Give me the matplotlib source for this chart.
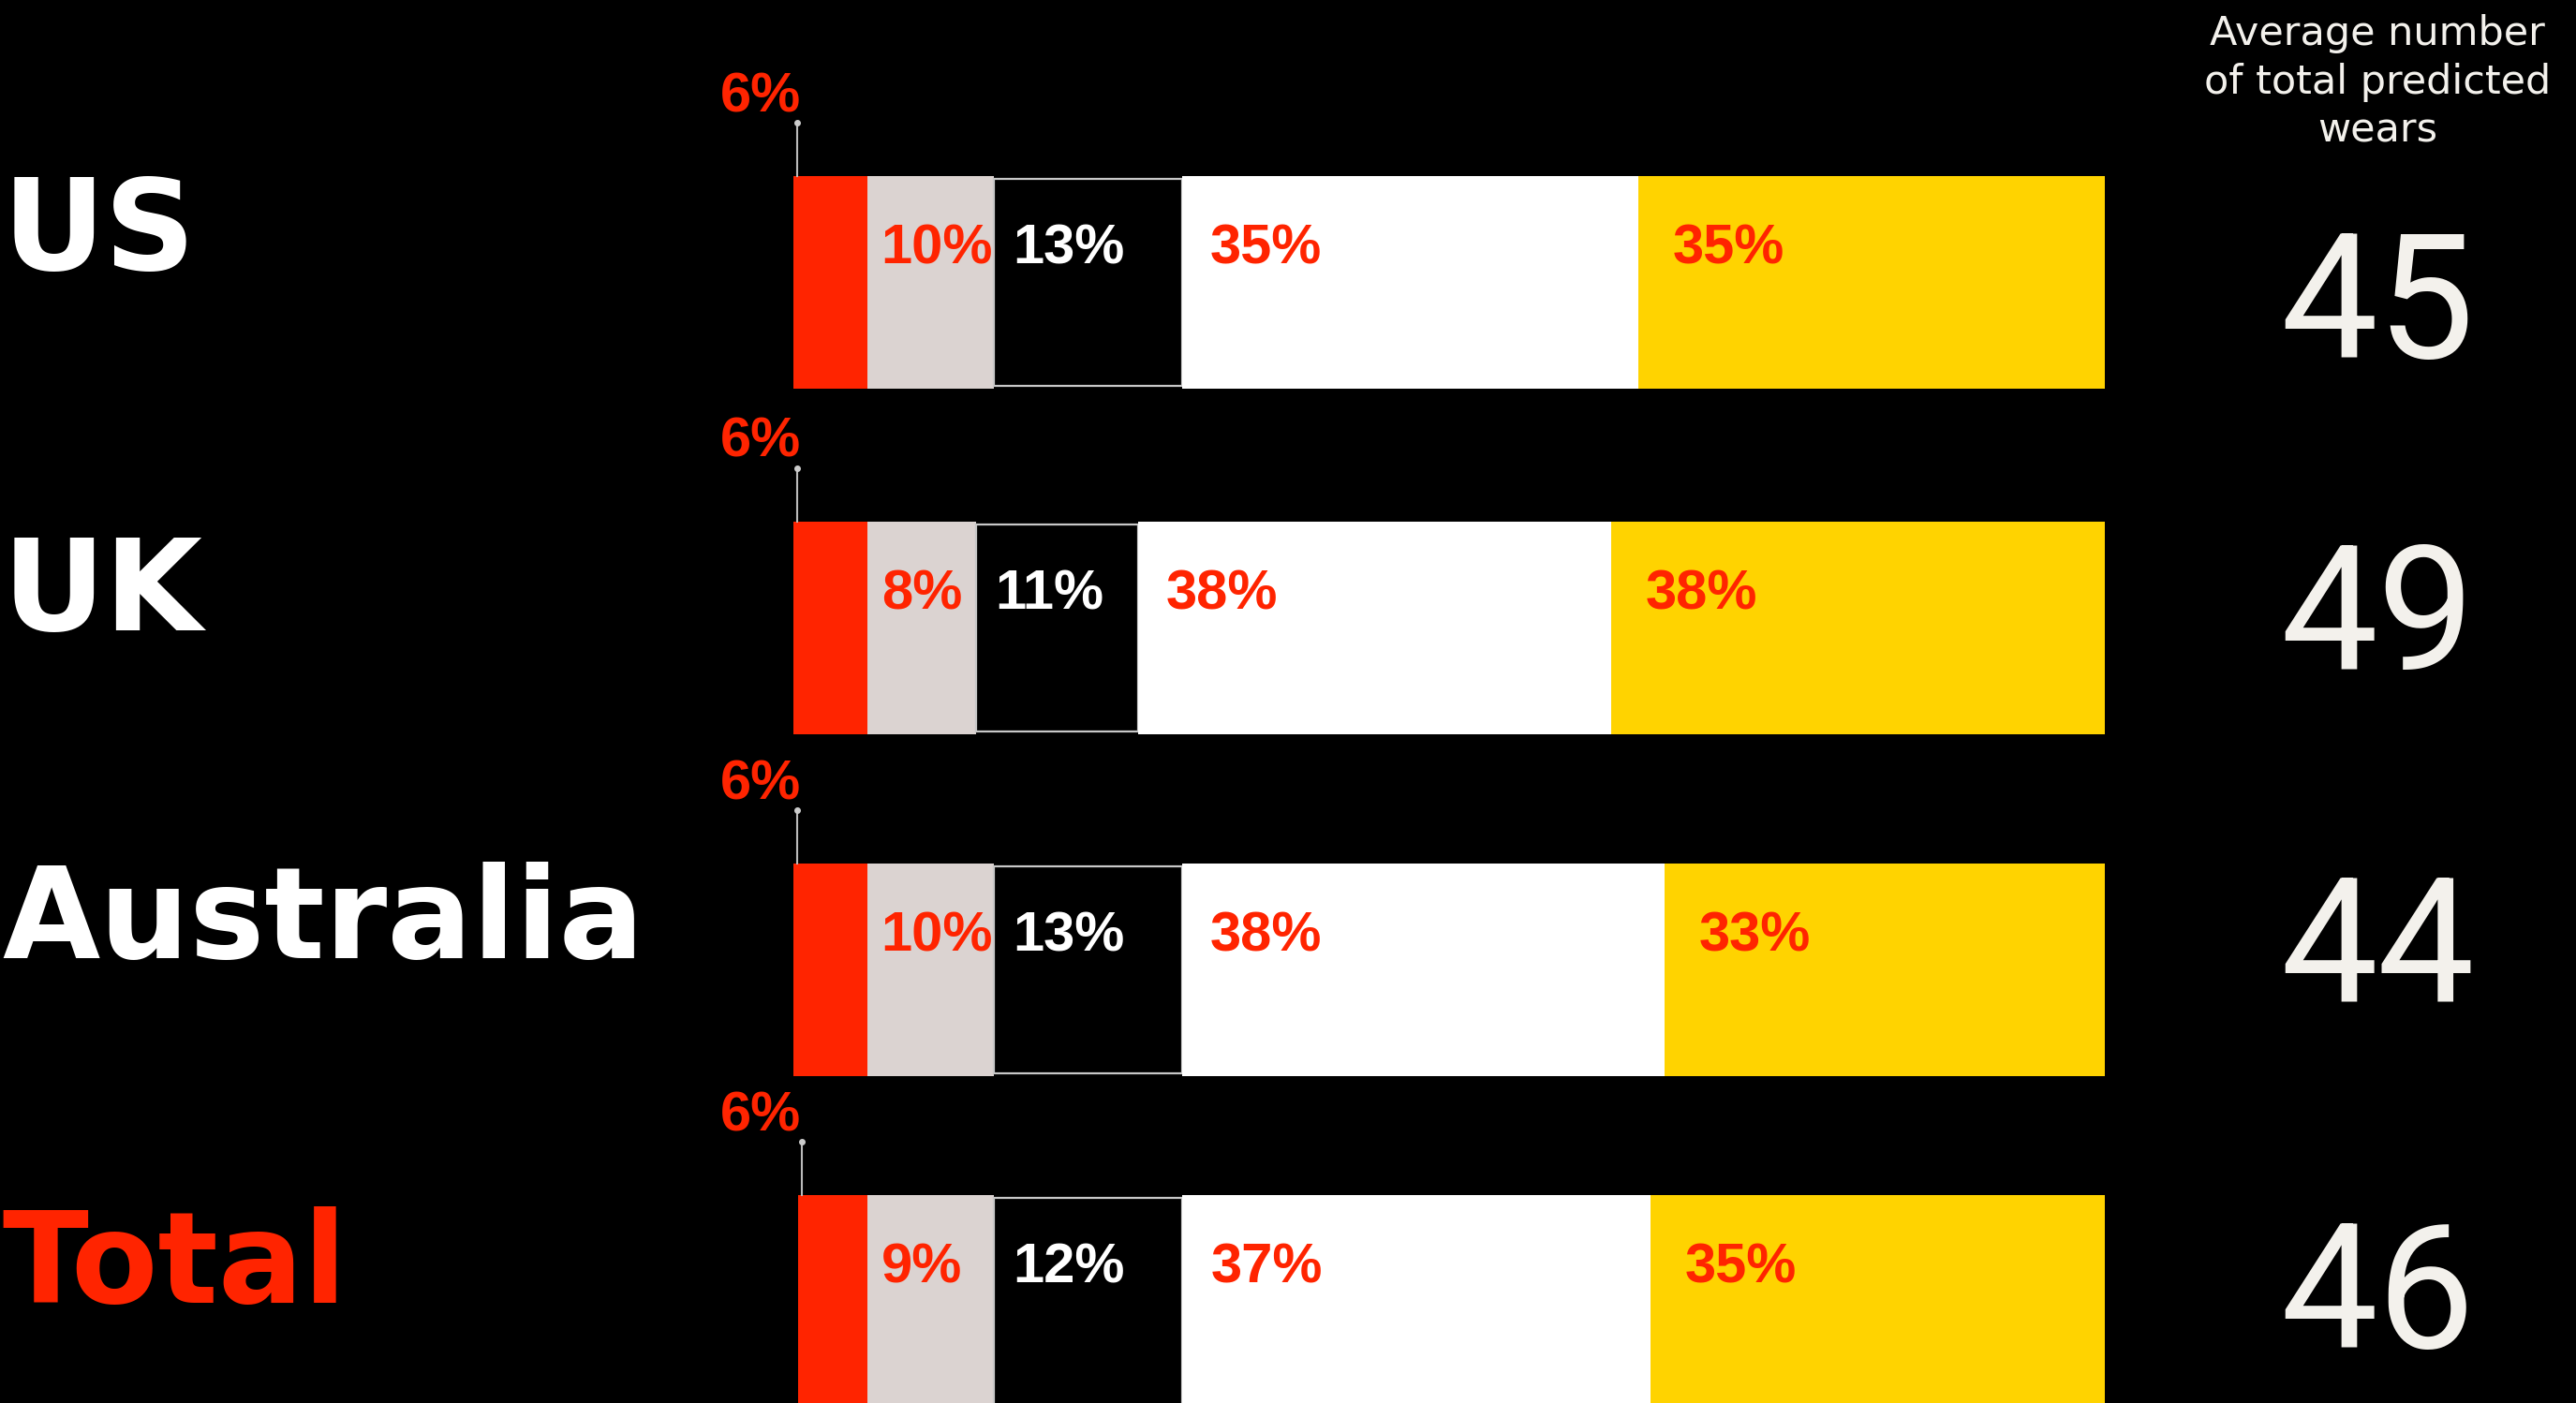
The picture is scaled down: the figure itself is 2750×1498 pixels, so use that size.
import matplotlib
matplotlib.use('Agg')
import matplotlib.pyplot as plt
import numpy as np

# data
countries = ['US', 'UK', 'Australia', 'Total']
# printed labels (%)
lab_red = [6, 6, 6, 6]
lab_grey = [10, 8, 10, 9]
lab_black = [13, 11, 13, 12]
lab_white = [35, 38, 38, 37]
lab_yellow = [35, 38, 33, 35]
# segment shares as measured from the bar widths (%)
share_red = [5.64, 5.64, 5.64, 5.29]
share_grey = [9.64, 8.29, 9.64, 9.64]
share_black = [14.36, 12.36, 14.36, 14.36]
share_white = [34.79, 36.07, 36.79, 35.71]
share_yellow = [35.57, 37.64, 33.57, 34.64]
avg_wears = [45, 49, 44, 46]

RED = '#FF2400'
GREY = '#DBD3D1'
YELLOW = '#FFD300'
OFFWHITE = '#F3F1EC'

# layout (pixel rows, y axis runs in pixels from the top)
row_y = [301.5, 670.5, 1035.5, 1389.5]
name_y = [288, 673, 1023, 1391]
num_y = [382, 715, 1071, 1439]
bar_h = 227

labs = [lab_red, lab_grey, lab_black, lab_white, lab_yellow]
shares = np.array([share_red, share_grey, share_black, share_white, share_yellow])
fills = [RED, GREY, 'black', 'white', YELLOW]
lab_col = [RED, RED, 'white', RED, RED]
lab_off = [0, 1.05, 1.45, 2.15, 2.6]

fig = plt.figure(figsize=(27.5, 14.98), dpi=100, facecolor='black')
ax = fig.add_axes([0, 0, 1, 1])
ax.set_facecolor('black')
ax.set_xlim(-60.5, 135.93)
ax.set_ylim(1498, 0)
ax.axis('off')

narrow = ['Liberation Sans Narrow', 'Liberation Sans', 'DejaVu Sans']

# bars are right aligned at 100
left = 100 - shares.sum(axis=0)
start = left.copy()
for k in range(5):
    if fills[k] == 'black':
        ax.barh(row_y, shares[k], left=left, height=bar_h - 6, color='black',
                edgecolor='#c8c8c8', linewidth=1.6)
    else:
        ax.barh(row_y, shares[k], left=left, height=bar_h, color=fills[k], linewidth=0)
    if k > 0:
        for i in range(len(countries)):
            ax.text(left[i] + lab_off[k], row_y[i] - 20, '%d%%' % labs[k][i],
                    color=lab_col[k], fontsize=43, fontweight='bold',
                    family=narrow, ha='left', va='baseline')
    left = left + shares[k]

# small red share sits above the bar with a leader line
for i in range(len(countries)):
    top = row_y[i] - bar_h / 2
    x0 = start[i] + 0.3
    ax.plot([x0, x0], [top, top - 57], color='#bbbbbb', lw=1.5)
    ax.plot([x0], [top - 57], 'o', color='#cccccc', ms=4)
    ax.text(-2.5, top - 69, '%d%%' % lab_red[i], color=RED, fontsize=43,
            fontweight='bold', family=narrow, ha='center', va='baseline')

# country names
for i, c in enumerate(countries):
    ax.text(-60.3, name_y[i], c, color=RED if c == 'Total' else 'white',
            fontsize=97, fontweight='bold', family='DejaVu Sans',
            ha='left', va='baseline')

# right column
ax.text(120.8, 88, 'Average number\nof total predicted\nwears', color=OFFWHITE,
        fontsize=31, ha='center', va='center', linespacing=1.29,
        multialignment='center')
for i, n in enumerate(avg_wears):
    ax.text(120.8, num_y[i], str(n), color=OFFWHITE, fontsize=133,
            family=['Roboto', 'DejaVu Sans'], ha='center', va='baseline')

fig.savefig('out.png', dpi=100, facecolor='black')
